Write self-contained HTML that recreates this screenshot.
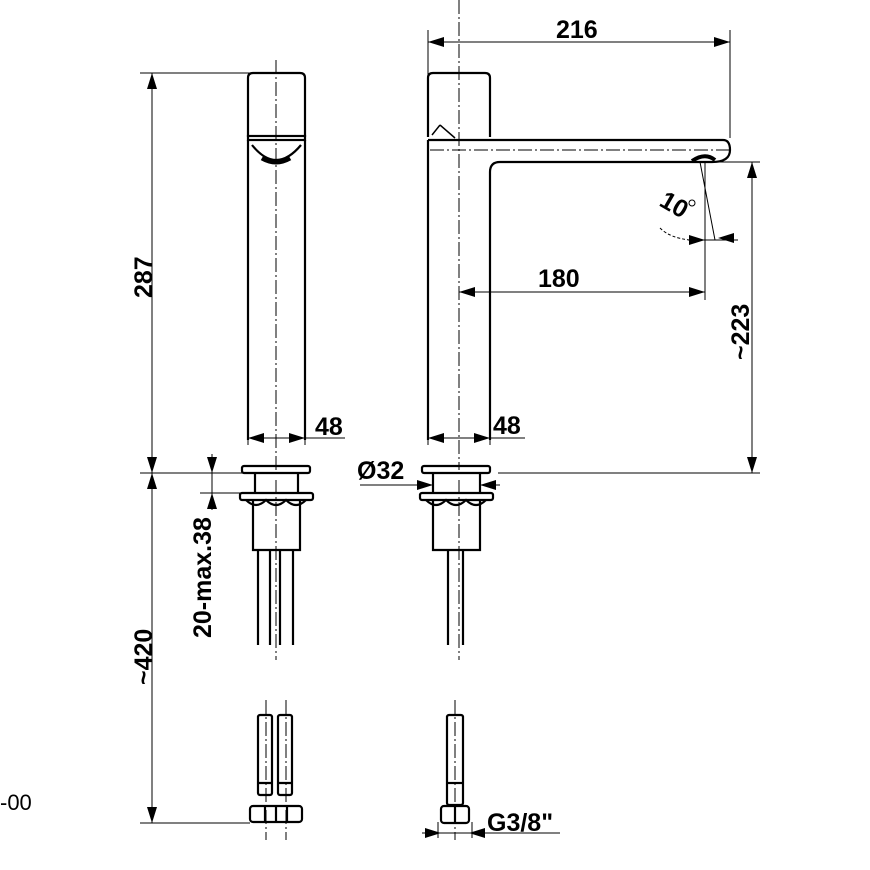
<!DOCTYPE html>
<html><head><style>
html,body{margin:0;padding:0;background:#fff}
svg{display:block}
text{font-family:"Liberation Sans",Arial,sans-serif;font-size:25px;font-weight:bold;fill:#000}
</style></head><body>
<svg width="870" height="870" viewBox="0 0 870 870" xmlns="http://www.w3.org/2000/svg">
<g fill="none" stroke="#000" stroke-width="2.2">
<path d="M248,137V78Q248,73 253,73H300Q305,73 305,78V137"/>
<rect x="248" y="136" width="57" height="4"/>
<path d="M248,140V440M305,140V440"/>
<path d="M252,145Q276,175 301,145"/>
<path d="M262,158Q276,166 290,158" stroke-width="5"/>
<rect x="242" y="466" width="68" height="7" rx="2"/>
<path d="M255,473V493M298,473V493"/>
<rect x="240" y="493" width="73" height="7" rx="2"/>
<path d="M246,500Q256,510 266,500Q276,510 286,500Q296,510 306,500"/>
<path d="M253,500V550H300V500"/>
<path d="M258,550V645M270,550V645M280,550V645M293,550V645"/>
<rect x="258" y="715" width="14" height="80" rx="2"/>
<rect x="278" y="715" width="14" height="80" rx="2"/>
<path d="M258,783H272M278,783H292"/>
<rect x="250" y="806" width="52" height="16" rx="3"/>
<path d="M265,806V822M276,806V822M287,806V822"/>
<path d="M428,137V78Q428,73 433,73H485Q490,73 490,78V137"/>
<path d="M432,135L440,125M440,125L455,138" stroke-width="1.5"/>
<path d="M428,140H723Q730,140 730,150Q730,162 712,162H500Q490,162 490,172V440"/>
<path d="M428,140V440"/>
<path d="M692,161Q705,152 715,160" stroke-width="4"/>
<rect x="422" y="466" width="68" height="7" rx="2"/>
<path d="M433,473V493M480,473V493"/>
<rect x="420" y="493" width="73" height="7" rx="2"/>
<path d="M426,500Q436,510 446,500Q456,510 466,500Q476,510 486,500"/>
<path d="M433,500V550H480V500"/>
<path d="M448,550V645M463,550V645"/>
<rect x="447" y="715" width="16" height="90" rx="2"/>
<path d="M447,783H463"/>
<rect x="441" y="806" width="28" height="17" rx="3"/>
<path d="M455,806V823"/>
</g>
<g fill="none" stroke="#000" stroke-width="1">
<path d="M140,73H250M140,473H250M140,823H250"/>
<path d="M200,473H243M200,493H243"/>
<path d="M428,30V120M730,30V138M705,162H760M498,473H760"/>
<path d="M700,162L715,240M705,162V300"/>
<path d="M248,430V445M305,430V445M428,430V445M490,430V445"/>
<path d="M438,822V838M472,822V838"/>
<path d="M660,228Q670,238 690,240" stroke-dasharray="3,2"/>
<path d="M360,485H433M480,485H500"/>
<path d="M152,73V823M428,42H730M752,162V473M459,292H705M248,438H345M428,438H525"/>
<path d="M212,454V510M422,833H560M688,240H738"/>
</g>
<g fill="none" stroke="#000" stroke-width="1" stroke-dasharray="14,3,2,3">
<path d="M276,60V470M276,480V660M266,700V840M286,700V840"/>
<path d="M459,0V470M459,480V660M455,700V840M430,150H730"/>
</g>
<g fill="#000">
<polygon points="152,73 147,89 157,89"/>
<polygon points="152,473 147,457 157,457"/>
<polygon points="152,473 147,489 157,489"/>
<polygon points="152,823 147,807 157,807"/>
<polygon points="428,42 444,37 444,47"/>
<polygon points="730,42 714,37 714,47"/>
<polygon points="752,162 747,178 757,178"/>
<polygon points="752,473 747,457 757,457"/>
<polygon points="459,292 475,287 475,297"/>
<polygon points="705,292 689,287 689,297"/>
<polygon points="248,438 264,433 264,443"/>
<polygon points="305,438 289,433 289,443"/>
<polygon points="428,438 444,433 444,443"/>
<polygon points="490,438 474,433 474,443"/>
<polygon points="212,473 207,457 217,457"/>
<polygon points="212,493 207,509 217,509"/>
<polygon points="433,485 417,480 417,490"/>
<polygon points="480,485 496,480 496,490"/>
<polygon points="441,833 425,828 425,838"/>
<polygon points="469,833 485,828 485,838"/>
<polygon points="705,240 689,235 689,245"/>
<polygon points="718,238 734,233 734,243"/>
</g>
<text x="556" y="38">216</text>
<text x="538" y="287">180</text>
<text x="315" y="435">48</text>
<text x="493" y="434">48</text>
<text x="357" y="479">Ø32</text>
<text x="487" y="831">G3/8"</text>
<text x="0" y="810" style="font-weight:normal;font-size:22px">-00</text>
<text transform="translate(152,298) rotate(-90)">287</text>
<text transform="translate(152,685) rotate(-90)">~420</text>
<text transform="translate(211,638) rotate(-90)">20-max.38</text>
<text transform="translate(749,360) rotate(-90)">~223</text>
<text transform="translate(658,205) rotate(30)">10</text>
<circle cx="692" cy="203" r="3" fill="none" stroke="#000" stroke-width="1"/>
</svg>
</body></html>
